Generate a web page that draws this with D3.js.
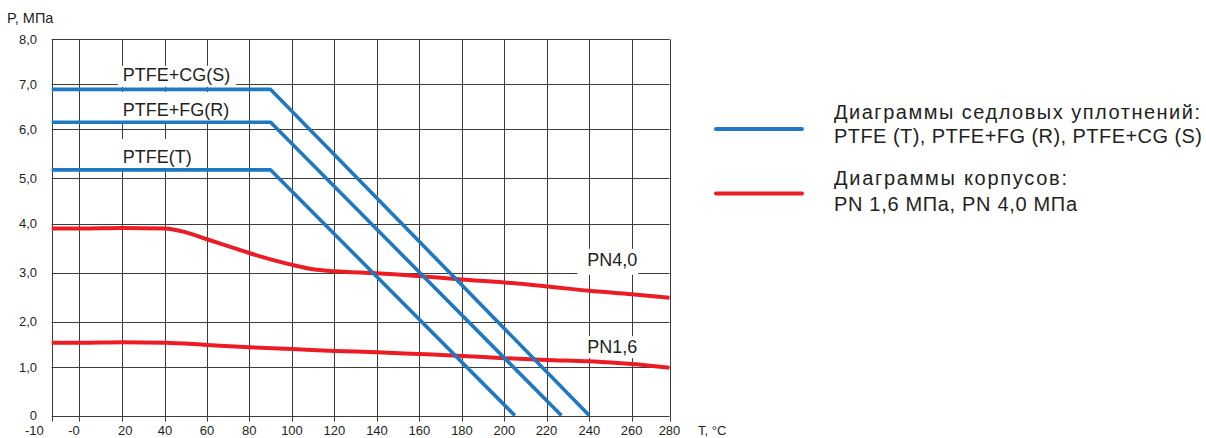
<!DOCTYPE html>
<html>
  <head>
    <meta charset="utf-8">
    <title>P-T diagram</title>
    <script src="https://d3js.org/d3.v7.min.js"></script>
    <style>
    body { margin: 0; background: #fff; }
    svg { display: block; }
    text { font-family: "Liberation Sans", Arial, sans-serif; fill: #231f20; }
    .grid line { stroke: #3c3c3c; stroke-width: 1; }
    </style>
  </head>
  <body>
<svg width="1206" height="438"></svg>

<script>
// axis ticks
var xTicks = [-10, 0, 20, 40, 60, 80, 100, 120, 140, 160, 180, 200, 220, 240, 260, 280];
var xTickLabels = ["-10", "-0", "20", "40", "60", "80", "100", "120", "140", "160", "180", "200", "220", "240", "260", "280"];
var yTicks = [0, 1, 2, 3, 4, 5, 6, 7, 8];
var yTickLabels = ["0", "1,0", "2,0", "3,0", "4,0", "5,0", "6,0", "7,0", "8,0"];

// seat seals (blue)
var seatNames = ["PTFE+CG(S)", "PTFE+FG(R)", "PTFE(T)"];
var seatT = [[-10, 90, 240], [-10, 90, 227], [-10, 90, 205]];
var seatP = [[6.88, 6.88, 0], [6.15, 6.15, 0], [5.17, 5.17, 0]];

// bodies (red)
var bodyNames = ["PN4,0", "PN1,6"];
var pn40T = [-10, 0, 20, 40, 50, 60, 70, 80, 90, 100, 110, 120, 140, 160, 180, 200, 220, 240, 260, 280];
var pn40P = [3.9, 3.9, 3.91, 3.9, 3.82, 3.68, 3.54, 3.40, 3.27, 3.16, 3.07, 3.03, 2.99, 2.93, 2.86, 2.80, 2.72, 2.63, 2.56, 2.49];
var pn16T = [-10, 0, 20, 40, 60, 80, 100, 120, 140, 160, 180, 200, 220, 240, 260, 280];
var pn16P = [1.54, 1.54, 1.55, 1.54, 1.49, 1.44, 1.40, 1.36, 1.33, 1.29, 1.25, 1.20, 1.16, 1.13, 1.07, 0.99];

var legendLines = [
  ["Диаграммы седловых уплотнений:", "PTFE (T), PTFE+FG (R), PTFE+CG (S)"],
  ["Диаграммы корпусов:", "PN 1,6 МПа, PN 4,0 МПа"]
];

var blue = "#1f78c2", red = "#ec1c24";

var svg = d3.select("svg");

// the printed grid is not quite even, so the scales follow it
var x = d3.scaleLinear().domain(xTicks)
  .range([51.7, 79.3, 122.3, 165, 207, 249.3, 292, 334.3, 377, 419.3, 462, 504.3, 546.5, 589.3, 631.7, 669.5]);
var y = d3.scaleLinear().domain(yTicks)
  .range([415.5, 367.3, 321.7, 272.7, 223.5, 178.3, 129, 84, 39.3]);

// grid
var grid = svg.append("g").attr("class", "grid");
grid.selectAll(".v").data(xTicks).enter().append("line")
  .attr("x1", function(d) { return Math.round(x(d)) + 0.5; })
  .attr("x2", function(d) { return Math.round(x(d)) + 0.5; })
  .attr("y1", y(8)).attr("y2", y(0) + 6);
grid.selectAll(".h").data(yTicks).enter().append("line")
  .attr("x1", x(-10)).attr("x2", x(280))
  .attr("y1", function(d) { return Math.round(y(d)) + 0.5; })
  .attr("y2", function(d) { return Math.round(y(d)) + 0.5; });

// tick labels
svg.selectAll(".xl").data(xTicks).enter().append("text")
  .attr("x", function(d) { return d == -10 ? x(d) - 8 : (d == 0 ? x(d) + 0.5 : x(d) + (d == 20 ? 3 : 0)); })
  .attr("y", 435)
  .attr("text-anchor", function(d) { return d <= 0 ? "end" : "middle"; })
  .style("font-size", "13px")
  .text(function(d, i) { return xTickLabels[i]; });

svg.selectAll(".yl").data(yTicks).enter().append("text")
  .attr("x", 37)
  .attr("y", function(d) { return y(d) + 4.5; })
  .attr("text-anchor", "end")
  .style("font-size", "13px")
  .text(function(d, i) { return yTickLabels[i]; });

svg.append("text").attr("x", 7).attr("y", 23).style("font-size", "14.5px").text("P, МПа");
svg.append("text").attr("x", 698).attr("y", 435).style("font-size", "13px").text("T, °C");

// series labels with white boxes: anchor (T, P), box padding [left, right, top, bottom]
var labelPos = [[20.2, 7.07], [20.2, 6.29], [20.2, 5.31], [239, 3.14], [239, 1.31]];
var labelPad = [[5, 6, -1, 2], [5, 6, 8, 3], [5, 5, 8, 4], [10, 1, 1, 5], [10, 1, 1, 1]];
var labelNames = seatNames.concat(bodyNames);
var labels = svg.append("g");
labelNames.forEach(function(name, i) {
  var g = labels.append("g");
  var t = g.append("text")
    .attr("x", x(labelPos[i][0]))
    .attr("y", y(labelPos[i][1]))
    .style("font-size", "18px")
    .text(name);
  var b = t.node().getBBox(), p = labelPad[i];
  g.insert("rect", "text")
    .attr("x", b.x - p[0]).attr("y", b.y - p[2])
    .attr("width", b.width + p[0] + p[1]).attr("height", b.height + p[2] + p[3])
    .attr("fill", "#fff");
});

var line = d3.line()
  .x(function(d) { return x(d[0]); })
  .y(function(d) { return y(d[1]); });

// body curves
var smooth = d3.line()
  .x(function(d) { return x(d[0]); })
  .y(function(d) { return y(d[1]); })
  .curve(d3.curveMonotoneX);
[[pn40T, pn40P], [pn16T, pn16P]].forEach(function(s) {
  svg.append("path")
    .datum(d3.zip(s[0], s[1]))
    .attr("d", smooth)
    .attr("fill", "none")
    .attr("stroke", red)
    .attr("stroke-width", 4);
});

// seat lines
seatT.forEach(function(ts, i) {
  svg.append("path")
    .datum(d3.zip(ts, seatP[i]))
    .attr("d", line)
    .attr("fill", "none")
    .attr("stroke", blue)
    .attr("stroke-width", 3.6)
    .attr("stroke-linejoin", "round");
});

// legend
var legendWidths = [[366, 368], [233, 243]];
var legendBase = [[118.5, 143], [185, 211]];
var legend = svg.append("g");
[blue, red].forEach(function(c, i) {
  var ly = 129 + i * 64.5;
  legend.append("line")
    .attr("x1", 716).attr("x2", 802)
    .attr("y1", ly).attr("y2", ly)
    .attr("stroke", c).attr("stroke-width", 4)
    .attr("stroke-linecap", "round");
  legendLines[i].forEach(function(s, j) {
    legend.append("text")
      .attr("x", 834)
      .attr("y", legendBase[i][j])
      .attr("textLength", legendWidths[i][j])
      .attr("lengthAdjust", "spacing")
      .style("font-size", "20px")
      .text(s);
  });
});
</script>
  </body>
</html>
